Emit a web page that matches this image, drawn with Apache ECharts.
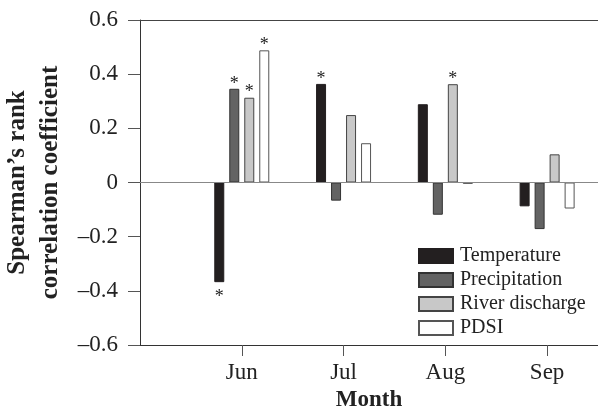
<!DOCTYPE html>
<html>
<head>
<meta charset="utf-8">
<script src="https://cdn.jsdelivr.net/npm/echarts@6/dist/echarts.min.js"></script>
<style>
html,body{margin:0;padding:0;background:#fff;}
#chart{width:598px;height:408px;}
</style>
</head>
<body>
<div id="chart"></div>
<script>
// ---- data ----
const months = ['Jun', 'Jul', 'Aug', 'Sep'];
const monthPositions = [1, 2, 3, 4];
const temperature   = [-0.368, 0.364, 0.289, -0.088];
const precipitation = [0.346, -0.067, -0.119, -0.172];
const riverDischarge = [0.313, 0.249, 0.363, 0.104];
const pdsi          = [0.488, 0.145, -0.005, -0.096];
const temperatureSig   = [true, true, false, false];
const precipitationSig = [true, false, false, false];
const riverDischargeSig = [true, false, true, false];
const pdsiSig          = [true, false, false, false];
const seriesNames = ['Temperature', 'Precipitation', 'River discharge', 'PDSI'];
const yTickValues = [-0.6, -0.4, -0.2, 0, 0.2, 0.4, 0.6];

const FONT = 'Liberation Serif';

function buildData(values, sig) {
  return values.map(function (v, i) {
    return {
      value: [monthPositions[i], v],
      label: {
        show: sig[i],
        position: v < 0 ? 'bottom' : 'top',
        distance: v < 0 ? 6 : -4,
        formatter: '*',
        fontFamily: FONT,
        fontSize: 18,
        color: '#222'
      }
    };
  });
}

const styles = [
  { color: '#231f20', borderColor: '#231f20' },
  { color: '#636363', borderColor: '#333333' },
  { color: '#c8c8c8', borderColor: '#444444' },
  { color: '#ffffff', borderColor: '#555555' }
];
const allValues = [temperature, precipitation, riverDischarge, pdsi];
const allSig = [temperatureSig, precipitationSig, riverDischargeSig, pdsiSig];

const series = seriesNames.map(function (name, k) {
  const s = {
    name: name,
    type: 'bar',
    barWidth: 10,
    barGap: '50%',
    itemStyle: { color: styles[k].color, borderColor: styles[k].borderColor, borderWidth: 1 },
    data: buildData(allValues[k], allSig[k]),
    animation: false
  };
  if (k === 0) {
    s.markLine = {
      silent: true,
      symbol: 'none',
      label: { show: false },
      lineStyle: { color: '#888', width: 1, type: 'solid' },
      data: [{ yAxis: 0 }],
      animation: false
    };
  }
  return s;
});

const chart = echarts.init(document.getElementById('chart'), null, { renderer: 'canvas' });
chart.setOption({
  backgroundColor: '#fff',
  animation: false,
  textStyle: { fontFamily: FONT },
  grid: { left: 140, right: 0, top: 20, bottom: 63, containLabel: false, outerBoundsMode: 'none' },
  legend: {
    orient: 'vertical',
    left: 418,
    top: 246,
    padding: 0,
    itemWidth: 34,
    itemHeight: 14,
    itemGap: 4,
    icon: 'rect',
    textStyle: { fontFamily: FONT, fontSize: 20, color: '#222', padding: [0, 0, 0, 2] },
    data: seriesNames
  },
  xAxis: [
    {
      type: 'value',
      position: 'bottom',
      min: 0,
      max: 4.5,
      interval: 1,
      splitLine: { show: false },
      axisLine: { show: true, onZero: false, lineStyle: { color: '#333', width: 1 } },
      axisTick: { show: true, customValues: monthPositions, length: 11, lineStyle: { color: '#555' } },
      axisLabel: {
        customValues: monthPositions,
        formatter: function (v) { return months[Math.round(v) - 1] || ''; },
        fontFamily: FONT, fontSize: 23, color: '#222', margin: 16
      },
      name: 'Month',
      nameLocation: 'middle',
      nameGap: 42,
      nameTextStyle: { fontFamily: FONT, fontSize: 23, fontWeight: 'bold', color: '#222' }
    },
    {
      type: 'value',
      position: 'top',
      min: 0,
      max: 4.5,
      axisLine: { show: true, onZero: false, lineStyle: { color: '#444', width: 1 } },
      axisTick: { show: false },
      axisLabel: { show: false },
      splitLine: { show: false }
    }
  ],
  yAxis: {
    type: 'value',
    min: -0.6,
    max: 0.6,
    interval: 0.2,
    splitLine: { show: false },
    axisLine: { show: true, onZero: false, lineStyle: { color: '#333', width: 1 } },
    axisTick: { show: true, length: 12, lineStyle: { color: '#555' } },
    axisLabel: {
      fontFamily: FONT, fontSize: 23, color: '#222', margin: 22,
      formatter: function (v) {
        const r = Math.round(v * 10) / 10;
        if (Math.abs(r) < 1e-9) return '0';
        return (r < 0 ? '\u2013' : '') + Math.abs(r).toFixed(1);
      }
    },
    name: 'Spearman\u2019s rank\ncorrelation coefficient',
    nameLocation: 'middle',
    nameGap: 68,
    nameTextStyle: { fontFamily: FONT, fontSize: 25, fontWeight: 'bold', color: '#222', lineHeight: 33 }
  },
  series: series
});
</script>
</body>
</html>
